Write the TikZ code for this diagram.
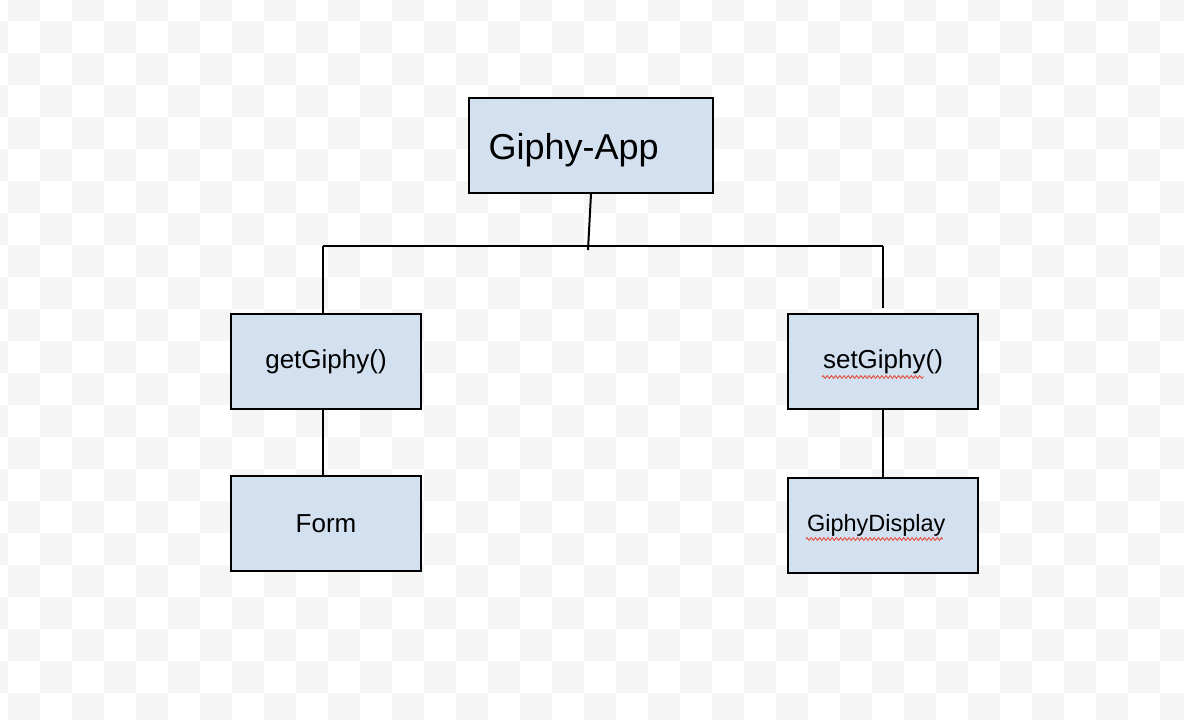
\documentclass[tikz,border=0pt]{standalone}
\usepackage{fontspec}
\setmainfont{Liberation Sans}
\usetikzlibrary{decorations.pathmorphing}
\definecolor{boxfill}{RGB}{211,224,240}
\definecolor{checker}{RGB}{245,245,245}
\definecolor{squig}{RGB}{228,80,60}
\begin{document}
\begin{tikzpicture}[x=1pt,y=-1pt,
  box/.style={draw=black, line width=2pt, fill=boxfill, minimum width=190pt,
    minimum height=95pt, inner sep=0pt, anchor=north west,
    font=\fontsize{26}{30}\selectfont},
  link/.style={line width=2pt, draw=black},
  spell/.style={draw=squig, line width=0.9pt, decorate,
    decoration={zigzag, amplitude=1.4pt, segment length=4.2pt}}]
\useasboundingbox (0,0) rectangle (1184,720);
\begin{scope}
\clip (0,0) rectangle (1184,720);
\fill[white] (0,0) rectangle (1184,720);
\foreach \i in {0,...,37}{\foreach \j in {0,...,23}{
  \pgfmathtruncatemacro{\pty}{mod(\i+\j,2)}
  \ifnum\pty=1
    \fill[checker] ({32*\i-24},{32*\j-11.3}) rectangle ({32*\i+8},{32*\j+20.7});
  \fi
}}
\end{scope}

\node[box, minimum width=244pt, text width=205pt, inner xsep=19pt, align=left,
      text height=28pt, text depth=0.4pt,
      font=\fontsize{36}{40}\selectfont] (app) at (468,97) {Giphy-App};
\node[box] (get) at (230,313) {getGiphy()};
\node[box] (set) at (787,313) {setGiphy()};
\node[box] (form) at (230,475) {Form};
\node[box, text width=152pt, inner xsep=19pt, align=left,
      font=\fontsize{23.5}{28}\selectfont] (disp) at (787,477) {GiphyDisplay};

\coordinate (hub) at (588,250);
\coordinate (bl) at (323,246);
\coordinate (br) at (883,246);
\draw[link] (app.south) -- (hub);
\draw[link] (bl) -- (br);
\draw[link] (bl) -- (get.north -| bl);
\draw[link] (br -| set.north) -- ([yshift=5pt]set.north);
\draw[link] (get.south -| bl) -- (form.north -| bl);
\draw[link] (set.south) -- (disp.north);

\draw[spell] (822,377) -- (924,377);
\draw[spell] (806,539) -- (943,539);
\end{tikzpicture}
\end{document}
